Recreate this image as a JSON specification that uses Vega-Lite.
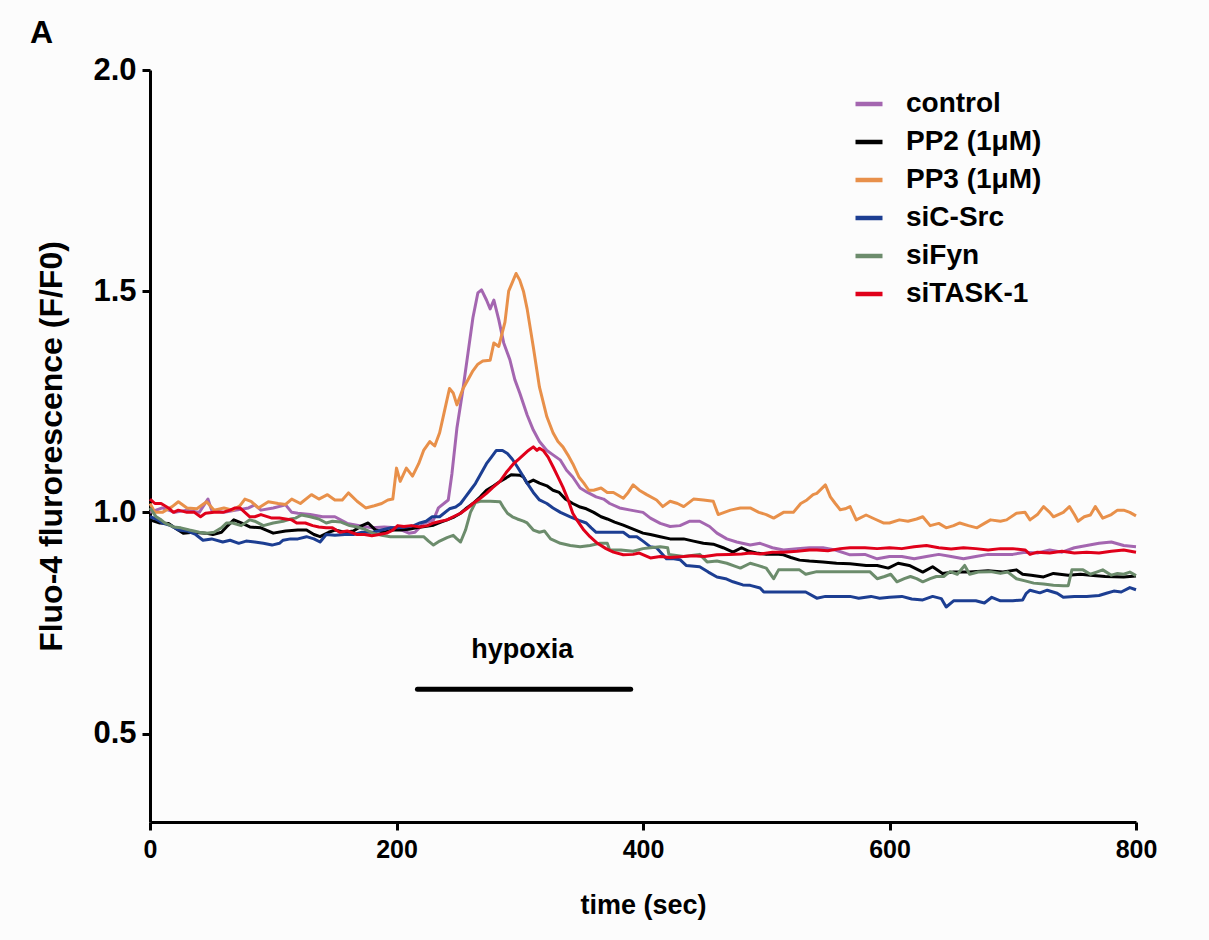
{
  "$schema": "https://vega.github.io/schema/vega-lite/v6.json",
  "autosize": {"type": "none"},
  "width": 986,
  "height": 752,
  "padding": {"left": 150, "top": 70, "right": 73, "bottom": 118},
  "background": "#fcfcfc",
  "title": {"text": "A", "anchor": "start", "frame": "group", "dx": -120, "offset": 4, "fontSize": 32, "fontWeight": "bold", "font": "Liberation Sans", "color": "black"},
  "datasets": {
    "traces": [
      {"s":"control","t":0,"v":1.0},{"s":"control","t":10,"v":1.01},{"s":"control","t":20,"v":1.0},{"s":"control","t":30,"v":1.005},{"s":"control","t":40,"v":1.0},{"s":"control","t":47,"v":1.03},{"s":"control","t":50,"v":1.005},{"s":"control","t":60,"v":1.0},{"s":"control","t":70,"v":1.005},{"s":"control","t":80,"v":1.01},{"s":"control","t":85,"v":1.017},{"s":"control","t":90,"v":1.005},{"s":"control","t":100,"v":1.01},{"s":"control","t":110,"v":1.017},{"s":"control","t":115,"v":1.0},{"s":"control","t":120,"v":0.998},{"s":"control","t":130,"v":0.995},{"s":"control","t":140,"v":0.99},{"s":"control","t":150,"v":0.99},{"s":"control","t":160,"v":0.975},{"s":"control","t":170,"v":0.97},{"s":"control","t":180,"v":0.965},{"s":"control","t":190,"v":0.967},{"s":"control","t":200,"v":0.965},{"s":"control","t":210,"v":0.953},{"s":"control","t":215,"v":0.955},{"s":"control","t":222,"v":0.975},{"s":"control","t":230,"v":0.983},{"s":"control","t":234,"v":1.01},{"s":"control","t":242,"v":1.028},{"s":"control","t":245,"v":1.088},{"s":"control","t":249,"v":1.19},{"s":"control","t":254,"v":1.28},{"s":"control","t":258,"v":1.36},{"s":"control","t":262,"v":1.44},{"s":"control","t":266,"v":1.496},{"s":"control","t":269,"v":1.503},{"s":"control","t":273,"v":1.48},{"s":"control","t":276,"v":1.46},{"s":"control","t":279,"v":1.48},{"s":"control","t":283,"v":1.435},{"s":"control","t":287,"v":1.383},{"s":"control","t":292,"v":1.345},{"s":"control","t":296,"v":1.3},{"s":"control","t":300,"v":1.27},{"s":"control","t":306,"v":1.22},{"s":"control","t":311,"v":1.186},{"s":"control","t":316,"v":1.16},{"s":"control","t":322,"v":1.14},{"s":"control","t":327,"v":1.13},{"s":"control","t":333,"v":1.118},{"s":"control","t":338,"v":1.095},{"s":"control","t":343,"v":1.08},{"s":"control","t":349,"v":1.055},{"s":"control","t":355,"v":1.045},{"s":"control","t":362,"v":1.035},{"s":"control","t":368,"v":1.03},{"s":"control","t":373,"v":1.02},{"s":"control","t":381,"v":1.01},{"s":"control","t":390,"v":1.005},{"s":"control","t":400,"v":1.0},{"s":"control","t":406,"v":0.987},{"s":"control","t":414,"v":0.975},{"s":"control","t":422,"v":0.968},{"s":"control","t":430,"v":0.97},{"s":"control","t":438,"v":0.98},{"s":"control","t":446,"v":0.98},{"s":"control","t":454,"v":0.968},{"s":"control","t":460,"v":0.953},{"s":"control","t":468,"v":0.94},{"s":"control","t":476,"v":0.933},{"s":"control","t":487,"v":0.926},{"s":"control","t":495,"v":0.93},{"s":"control","t":505,"v":0.92},{"s":"control","t":514,"v":0.915},{"s":"control","t":525,"v":0.918},{"s":"control","t":535,"v":0.92},{"s":"control","t":546,"v":0.92},{"s":"control","t":556,"v":0.915},{"s":"control","t":568,"v":0.904},{"s":"control","t":580,"v":0.905},{"s":"control","t":590,"v":0.895},{"s":"control","t":600,"v":0.9},{"s":"control","t":610,"v":0.9},{"s":"control","t":620,"v":0.895},{"s":"control","t":630,"v":0.9},{"s":"control","t":640,"v":0.905},{"s":"control","t":650,"v":0.9},{"s":"control","t":660,"v":0.895},{"s":"control","t":670,"v":0.9},{"s":"control","t":680,"v":0.905},{"s":"control","t":690,"v":0.905},{"s":"control","t":700,"v":0.905},{"s":"control","t":710,"v":0.91},{"s":"control","t":720,"v":0.908},{"s":"control","t":730,"v":0.915},{"s":"control","t":740,"v":0.91},{"s":"control","t":750,"v":0.92},{"s":"control","t":760,"v":0.925},{"s":"control","t":770,"v":0.93},{"s":"control","t":780,"v":0.933},{"s":"control","t":790,"v":0.925},{"s":"control","t":800,"v":0.922},

      {"s":"PP2 (1μM)","t":0,"v":0.983},{"s":"PP2 (1μM)","t":8,"v":0.976},{"s":"PP2 (1μM)","t":15,"v":0.975},{"s":"PP2 (1μM)","t":20,"v":0.965},{"s":"PP2 (1μM)","t":27,"v":0.953},{"s":"PP2 (1μM)","t":35,"v":0.955},{"s":"PP2 (1μM)","t":45,"v":0.953},{"s":"PP2 (1μM)","t":51,"v":0.95},{"s":"PP2 (1μM)","t":58,"v":0.955},{"s":"PP2 (1μM)","t":62,"v":0.967},{"s":"PP2 (1μM)","t":68,"v":0.983},{"s":"PP2 (1μM)","t":75,"v":0.975},{"s":"PP2 (1μM)","t":81,"v":0.967},{"s":"PP2 (1μM)","t":90,"v":0.965},{"s":"PP2 (1μM)","t":100,"v":0.953},{"s":"PP2 (1μM)","t":110,"v":0.958},{"s":"PP2 (1μM)","t":120,"v":0.96},{"s":"PP2 (1μM)","t":127,"v":0.96},{"s":"PP2 (1μM)","t":133,"v":0.95},{"s":"PP2 (1μM)","t":138,"v":0.945},{"s":"PP2 (1μM)","t":145,"v":0.955},{"s":"PP2 (1μM)","t":150,"v":0.96},{"s":"PP2 (1μM)","t":158,"v":0.955},{"s":"PP2 (1μM)","t":165,"v":0.958},{"s":"PP2 (1μM)","t":172,"v":0.97},{"s":"PP2 (1μM)","t":177,"v":0.976},{"s":"PP2 (1μM)","t":183,"v":0.96},{"s":"PP2 (1μM)","t":190,"v":0.955},{"s":"PP2 (1μM)","t":197,"v":0.96},{"s":"PP2 (1μM)","t":203,"v":0.96},{"s":"PP2 (1μM)","t":210,"v":0.962},{"s":"PP2 (1μM)","t":216,"v":0.965},{"s":"PP2 (1μM)","t":223,"v":0.968},{"s":"PP2 (1μM)","t":230,"v":0.971},{"s":"PP2 (1μM)","t":236,"v":0.978},{"s":"PP2 (1μM)","t":241,"v":0.983},{"s":"PP2 (1μM)","t":247,"v":0.99},{"s":"PP2 (1μM)","t":252,"v":0.998},{"s":"PP2 (1μM)","t":257,"v":1.01},{"s":"PP2 (1μM)","t":262,"v":1.02},{"s":"PP2 (1μM)","t":268,"v":1.035},{"s":"PP2 (1μM)","t":273,"v":1.05},{"s":"PP2 (1μM)","t":279,"v":1.06},{"s":"PP2 (1μM)","t":284,"v":1.07},{"s":"PP2 (1μM)","t":289,"v":1.078},{"s":"PP2 (1μM)","t":293,"v":1.085},{"s":"PP2 (1μM)","t":300,"v":1.084},{"s":"PP2 (1μM)","t":303,"v":1.08},{"s":"PP2 (1μM)","t":306,"v":1.066},{"s":"PP2 (1μM)","t":311,"v":1.073},{"s":"PP2 (1μM)","t":316,"v":1.066},{"s":"PP2 (1μM)","t":322,"v":1.06},{"s":"PP2 (1μM)","t":327,"v":1.05},{"s":"PP2 (1μM)","t":332,"v":1.045},{"s":"PP2 (1μM)","t":337,"v":1.03},{"s":"PP2 (1μM)","t":343,"v":1.02},{"s":"PP2 (1μM)","t":349,"v":1.012},{"s":"PP2 (1μM)","t":354,"v":1.008},{"s":"PP2 (1μM)","t":360,"v":1.0},{"s":"PP2 (1μM)","t":366,"v":0.99},{"s":"PP2 (1μM)","t":371,"v":0.985},{"s":"PP2 (1μM)","t":377,"v":0.978},{"s":"PP2 (1μM)","t":384,"v":0.971},{"s":"PP2 (1μM)","t":392,"v":0.962},{"s":"PP2 (1μM)","t":400,"v":0.953},{"s":"PP2 (1μM)","t":406,"v":0.95},{"s":"PP2 (1μM)","t":414,"v":0.945},{"s":"PP2 (1μM)","t":422,"v":0.94},{"s":"PP2 (1μM)","t":433,"v":0.94},{"s":"PP2 (1μM)","t":441,"v":0.935},{"s":"PP2 (1μM)","t":449,"v":0.93},{"s":"PP2 (1μM)","t":457,"v":0.928},{"s":"PP2 (1μM)","t":465,"v":0.92},{"s":"PP2 (1μM)","t":473,"v":0.91},{"s":"PP2 (1μM)","t":480,"v":0.92},{"s":"PP2 (1μM)","t":486,"v":0.912},{"s":"PP2 (1μM)","t":492,"v":0.908},{"s":"PP2 (1μM)","t":500,"v":0.905},{"s":"PP2 (1μM)","t":508,"v":0.906},{"s":"PP2 (1μM)","t":514,"v":0.904},{"s":"PP2 (1μM)","t":520,"v":0.898},{"s":"PP2 (1μM)","t":527,"v":0.892},{"s":"PP2 (1μM)","t":535,"v":0.89},{"s":"PP2 (1μM)","t":546,"v":0.888},{"s":"PP2 (1μM)","t":557,"v":0.885},{"s":"PP2 (1μM)","t":568,"v":0.884},{"s":"PP2 (1μM)","t":581,"v":0.88},{"s":"PP2 (1μM)","t":590,"v":0.88},{"s":"PP2 (1μM)","t":599,"v":0.874},{"s":"PP2 (1μM)","t":607,"v":0.885},{"s":"PP2 (1μM)","t":616,"v":0.88},{"s":"PP2 (1μM)","t":627,"v":0.865},{"s":"PP2 (1μM)","t":635,"v":0.877},{"s":"PP2 (1μM)","t":643,"v":0.862},{"s":"PP2 (1μM)","t":652,"v":0.865},{"s":"PP2 (1μM)","t":665,"v":0.865},{"s":"PP2 (1μM)","t":680,"v":0.868},{"s":"PP2 (1μM)","t":692,"v":0.865},{"s":"PP2 (1μM)","t":703,"v":0.87},{"s":"PP2 (1μM)","t":708,"v":0.86},{"s":"PP2 (1μM)","t":715,"v":0.858},{"s":"PP2 (1μM)","t":725,"v":0.854},{"s":"PP2 (1μM)","t":733,"v":0.862},{"s":"PP2 (1μM)","t":745,"v":0.858},{"s":"PP2 (1μM)","t":755,"v":0.86},{"s":"PP2 (1μM)","t":763,"v":0.858},{"s":"PP2 (1μM)","t":775,"v":0.855},{"s":"PP2 (1μM)","t":790,"v":0.854},{"s":"PP2 (1μM)","t":800,"v":0.856},

      {"s":"PP3 (1μM)","t":0,"v":1.02},{"s":"PP3 (1μM)","t":4,"v":1.0},{"s":"PP3 (1μM)","t":10,"v":1.0},{"s":"PP3 (1μM)","t":18,"v":1.013},{"s":"PP3 (1μM)","t":23,"v":1.024},{"s":"PP3 (1μM)","t":30,"v":1.01},{"s":"PP3 (1μM)","t":38,"v":1.008},{"s":"PP3 (1μM)","t":46,"v":1.024},{"s":"PP3 (1μM)","t":52,"v":1.005},{"s":"PP3 (1μM)","t":60,"v":1.01},{"s":"PP3 (1μM)","t":67,"v":1.005},{"s":"PP3 (1μM)","t":73,"v":1.015},{"s":"PP3 (1μM)","t":77,"v":1.03},{"s":"PP3 (1μM)","t":82,"v":1.025},{"s":"PP3 (1μM)","t":88,"v":1.01},{"s":"PP3 (1μM)","t":96,"v":1.024},{"s":"PP3 (1μM)","t":104,"v":1.02},{"s":"PP3 (1μM)","t":110,"v":1.018},{"s":"PP3 (1μM)","t":115,"v":1.03},{"s":"PP3 (1μM)","t":122,"v":1.02},{"s":"PP3 (1μM)","t":131,"v":1.04},{"s":"PP3 (1μM)","t":137,"v":1.03},{"s":"PP3 (1μM)","t":144,"v":1.04},{"s":"PP3 (1μM)","t":150,"v":1.028},{"s":"PP3 (1μM)","t":156,"v":1.028},{"s":"PP3 (1μM)","t":161,"v":1.044},{"s":"PP3 (1μM)","t":168,"v":1.025},{"s":"PP3 (1μM)","t":175,"v":1.01},{"s":"PP3 (1μM)","t":182,"v":1.015},{"s":"PP3 (1μM)","t":188,"v":1.02},{"s":"PP3 (1μM)","t":193,"v":1.028},{"s":"PP3 (1μM)","t":197,"v":1.03},{"s":"PP3 (1μM)","t":200,"v":1.1},{"s":"PP3 (1μM)","t":203,"v":1.07},{"s":"PP3 (1μM)","t":208,"v":1.1},{"s":"PP3 (1μM)","t":213,"v":1.082},{"s":"PP3 (1μM)","t":218,"v":1.11},{"s":"PP3 (1μM)","t":222,"v":1.14},{"s":"PP3 (1μM)","t":227,"v":1.16},{"s":"PP3 (1μM)","t":231,"v":1.15},{"s":"PP3 (1μM)","t":235,"v":1.18},{"s":"PP3 (1μM)","t":239,"v":1.23},{"s":"PP3 (1μM)","t":243,"v":1.28},{"s":"PP3 (1μM)","t":246,"v":1.27},{"s":"PP3 (1μM)","t":249,"v":1.243},{"s":"PP3 (1μM)","t":254,"v":1.28},{"s":"PP3 (1μM)","t":258,"v":1.3},{"s":"PP3 (1μM)","t":262,"v":1.32},{"s":"PP3 (1μM)","t":266,"v":1.335},{"s":"PP3 (1μM)","t":270,"v":1.342},{"s":"PP3 (1μM)","t":276,"v":1.344},{"s":"PP3 (1μM)","t":279,"v":1.383},{"s":"PP3 (1μM)","t":283,"v":1.375},{"s":"PP3 (1μM)","t":288,"v":1.43},{"s":"PP3 (1μM)","t":291,"v":1.5},{"s":"PP3 (1μM)","t":294,"v":1.52},{"s":"PP3 (1μM)","t":297,"v":1.54},{"s":"PP3 (1μM)","t":300,"v":1.525},{"s":"PP3 (1μM)","t":303,"v":1.5},{"s":"PP3 (1μM)","t":306,"v":1.46},{"s":"PP3 (1μM)","t":311,"v":1.374},{"s":"PP3 (1μM)","t":316,"v":1.283},{"s":"PP3 (1μM)","t":322,"v":1.216},{"s":"PP3 (1μM)","t":327,"v":1.18},{"s":"PP3 (1μM)","t":331,"v":1.16},{"s":"PP3 (1μM)","t":335,"v":1.148},{"s":"PP3 (1μM)","t":339,"v":1.13},{"s":"PP3 (1μM)","t":343,"v":1.11},{"s":"PP3 (1μM)","t":348,"v":1.08},{"s":"PP3 (1μM)","t":352,"v":1.066},{"s":"PP3 (1μM)","t":356,"v":1.05},{"s":"PP3 (1μM)","t":360,"v":1.05},{"s":"PP3 (1μM)","t":366,"v":1.055},{"s":"PP3 (1μM)","t":371,"v":1.045},{"s":"PP3 (1μM)","t":376,"v":1.045},{"s":"PP3 (1μM)","t":384,"v":1.032},{"s":"PP3 (1μM)","t":388,"v":1.045},{"s":"PP3 (1μM)","t":392,"v":1.062},{"s":"PP3 (1μM)","t":397,"v":1.05},{"s":"PP3 (1μM)","t":403,"v":1.04},{"s":"PP3 (1μM)","t":411,"v":1.028},{"s":"PP3 (1μM)","t":416,"v":1.013},{"s":"PP3 (1μM)","t":422,"v":1.025},{"s":"PP3 (1μM)","t":428,"v":1.02},{"s":"PP3 (1μM)","t":433,"v":1.013},{"s":"PP3 (1μM)","t":441,"v":1.03},{"s":"PP3 (1μM)","t":449,"v":1.028},{"s":"PP3 (1μM)","t":457,"v":1.025},{"s":"PP3 (1μM)","t":461,"v":0.995},{"s":"PP3 (1μM)","t":466,"v":1.0},{"s":"PP3 (1μM)","t":471,"v":1.005},{"s":"PP3 (1μM)","t":479,"v":1.01},{"s":"PP3 (1μM)","t":487,"v":1.01},{"s":"PP3 (1μM)","t":494,"v":1.0},{"s":"PP3 (1μM)","t":500,"v":0.995},{"s":"PP3 (1μM)","t":506,"v":0.987},{"s":"PP3 (1μM)","t":514,"v":1.0},{"s":"PP3 (1μM)","t":522,"v":1.0},{"s":"PP3 (1μM)","t":528,"v":1.02},{"s":"PP3 (1μM)","t":533,"v":1.028},{"s":"PP3 (1μM)","t":538,"v":1.04},{"s":"PP3 (1μM)","t":541,"v":1.043},{"s":"PP3 (1μM)","t":548,"v":1.062},{"s":"PP3 (1μM)","t":552,"v":1.035},{"s":"PP3 (1μM)","t":556,"v":1.02},{"s":"PP3 (1μM)","t":560,"v":1.006},{"s":"PP3 (1μM)","t":564,"v":1.008},{"s":"PP3 (1μM)","t":568,"v":1.013},{"s":"PP3 (1μM)","t":573,"v":0.983},{"s":"PP3 (1μM)","t":581,"v":0.994},{"s":"PP3 (1μM)","t":588,"v":0.985},{"s":"PP3 (1μM)","t":595,"v":0.976},{"s":"PP3 (1μM)","t":600,"v":0.976},{"s":"PP3 (1μM)","t":608,"v":0.983},{"s":"PP3 (1μM)","t":615,"v":0.98},{"s":"PP3 (1μM)","t":622,"v":0.985},{"s":"PP3 (1μM)","t":627,"v":0.99},{"s":"PP3 (1μM)","t":633,"v":0.97},{"s":"PP3 (1μM)","t":640,"v":0.975},{"s":"PP3 (1μM)","t":646,"v":0.965},{"s":"PP3 (1μM)","t":652,"v":0.97},{"s":"PP3 (1μM)","t":657,"v":0.976},{"s":"PP3 (1μM)","t":664,"v":0.97},{"s":"PP3 (1μM)","t":671,"v":0.965},{"s":"PP3 (1μM)","t":677,"v":0.975},{"s":"PP3 (1μM)","t":682,"v":0.983},{"s":"PP3 (1μM)","t":690,"v":0.98},{"s":"PP3 (1μM)","t":695,"v":0.983},{"s":"PP3 (1μM)","t":703,"v":0.998},{"s":"PP3 (1μM)","t":710,"v":1.0},{"s":"PP3 (1μM)","t":714,"v":0.983},{"s":"PP3 (1μM)","t":720,"v":0.995},{"s":"PP3 (1μM)","t":725,"v":1.013},{"s":"PP3 (1μM)","t":730,"v":1.0},{"s":"PP3 (1μM)","t":733,"v":0.99},{"s":"PP3 (1μM)","t":741,"v":1.0},{"s":"PP3 (1μM)","t":746,"v":1.013},{"s":"PP3 (1μM)","t":750,"v":0.995},{"s":"PP3 (1μM)","t":753,"v":0.98},{"s":"PP3 (1μM)","t":758,"v":0.99},{"s":"PP3 (1μM)","t":763,"v":0.994},{"s":"PP3 (1μM)","t":767,"v":1.013},{"s":"PP3 (1μM)","t":773,"v":0.987},{"s":"PP3 (1μM)","t":780,"v":0.995},{"s":"PP3 (1μM)","t":785,"v":1.005},{"s":"PP3 (1μM)","t":790,"v":1.005},{"s":"PP3 (1μM)","t":795,"v":1.0},{"s":"PP3 (1μM)","t":800,"v":0.992},

      {"s":"siC-Src","t":0,"v":0.99},{"s":"siC-Src","t":5,"v":0.985},{"s":"siC-Src","t":10,"v":0.976},{"s":"siC-Src","t":17,"v":0.97},{"s":"siC-Src","t":23,"v":0.96},{"s":"siC-Src","t":30,"v":0.958},{"s":"siC-Src","t":37,"v":0.95},{"s":"siC-Src","t":43,"v":0.937},{"s":"siC-Src","t":50,"v":0.94},{"s":"siC-Src","t":59,"v":0.933},{"s":"siC-Src","t":65,"v":0.937},{"s":"siC-Src","t":72,"v":0.93},{"s":"siC-Src","t":78,"v":0.935},{"s":"siC-Src","t":85,"v":0.933},{"s":"siC-Src","t":92,"v":0.93},{"s":"siC-Src","t":99,"v":0.926},{"s":"siC-Src","t":105,"v":0.93},{"s":"siC-Src","t":108,"v":0.937},{"s":"siC-Src","t":114,"v":0.94},{"s":"siC-Src","t":120,"v":0.94},{"s":"siC-Src","t":127,"v":0.945},{"s":"siC-Src","t":133,"v":0.94},{"s":"siC-Src","t":138,"v":0.933},{"s":"siC-Src","t":143,"v":0.95},{"s":"siC-Src","t":150,"v":0.948},{"s":"siC-Src","t":158,"v":0.95},{"s":"siC-Src","t":165,"v":0.95},{"s":"siC-Src","t":172,"v":0.955},{"s":"siC-Src","t":181,"v":0.955},{"s":"siC-Src","t":188,"v":0.96},{"s":"siC-Src","t":195,"v":0.965},{"s":"siC-Src","t":201,"v":0.965},{"s":"siC-Src","t":208,"v":0.967},{"s":"siC-Src","t":214,"v":0.97},{"s":"siC-Src","t":219,"v":0.976},{"s":"siC-Src","t":224,"v":0.98},{"s":"siC-Src","t":229,"v":0.99},{"s":"siC-Src","t":235,"v":0.99},{"s":"siC-Src","t":243,"v":1.008},{"s":"siC-Src","t":248,"v":1.012},{"s":"siC-Src","t":252,"v":1.02},{"s":"siC-Src","t":256,"v":1.035},{"s":"siC-Src","t":260,"v":1.05},{"s":"siC-Src","t":264,"v":1.065},{"s":"siC-Src","t":268,"v":1.085},{"s":"siC-Src","t":273,"v":1.11},{"s":"siC-Src","t":277,"v":1.125},{"s":"siC-Src","t":281,"v":1.14},{"s":"siC-Src","t":286,"v":1.14},{"s":"siC-Src","t":290,"v":1.133},{"s":"siC-Src","t":294,"v":1.12},{"s":"siC-Src","t":298,"v":1.103},{"s":"siC-Src","t":302,"v":1.085},{"s":"siC-Src","t":306,"v":1.066},{"s":"siC-Src","t":311,"v":1.045},{"s":"siC-Src","t":316,"v":1.028},{"s":"siC-Src","t":322,"v":1.02},{"s":"siC-Src","t":327,"v":1.01},{"s":"siC-Src","t":333,"v":1.0},{"s":"siC-Src","t":341,"v":0.99},{"s":"siC-Src","t":348,"v":0.982},{"s":"siC-Src","t":354,"v":0.976},{"s":"siC-Src","t":358,"v":0.965},{"s":"siC-Src","t":362,"v":0.955},{"s":"siC-Src","t":370,"v":0.955},{"s":"siC-Src","t":378,"v":0.955},{"s":"siC-Src","t":384,"v":0.955},{"s":"siC-Src","t":389,"v":0.945},{"s":"siC-Src","t":395,"v":0.945},{"s":"siC-Src","t":400,"v":0.935},{"s":"siC-Src","t":406,"v":0.922},{"s":"siC-Src","t":411,"v":0.92},{"s":"siC-Src","t":419,"v":0.895},{"s":"siC-Src","t":425,"v":0.895},{"s":"siC-Src","t":430,"v":0.893},{"s":"siC-Src","t":435,"v":0.88},{"s":"siC-Src","t":446,"v":0.877},{"s":"siC-Src","t":453,"v":0.865},{"s":"siC-Src","t":460,"v":0.854},{"s":"siC-Src","t":467,"v":0.85},{"s":"siC-Src","t":473,"v":0.843},{"s":"siC-Src","t":481,"v":0.836},{"s":"siC-Src","t":487,"v":0.835},{"s":"siC-Src","t":495,"v":0.829},{"s":"siC-Src","t":498,"v":0.82},{"s":"siC-Src","t":506,"v":0.82},{"s":"siC-Src","t":514,"v":0.82},{"s":"siC-Src","t":524,"v":0.82},{"s":"siC-Src","t":532,"v":0.82},{"s":"siC-Src","t":541,"v":0.806},{"s":"siC-Src","t":548,"v":0.81},{"s":"siC-Src","t":555,"v":0.81},{"s":"siC-Src","t":568,"v":0.81},{"s":"siC-Src","t":575,"v":0.806},{"s":"siC-Src","t":585,"v":0.81},{"s":"siC-Src","t":592,"v":0.806},{"s":"siC-Src","t":600,"v":0.808},{"s":"siC-Src","t":610,"v":0.81},{"s":"siC-Src","t":618,"v":0.804},{"s":"siC-Src","t":627,"v":0.802},{"s":"siC-Src","t":635,"v":0.81},{"s":"siC-Src","t":642,"v":0.805},{"s":"siC-Src","t":646,"v":0.786},{"s":"siC-Src","t":652,"v":0.8},{"s":"siC-Src","t":660,"v":0.8},{"s":"siC-Src","t":670,"v":0.8},{"s":"siC-Src","t":677,"v":0.795},{"s":"siC-Src","t":683,"v":0.808},{"s":"siC-Src","t":690,"v":0.8},{"s":"siC-Src","t":700,"v":0.8},{"s":"siC-Src","t":708,"v":0.802},{"s":"siC-Src","t":711,"v":0.817},{"s":"siC-Src","t":714,"v":0.824},{"s":"siC-Src","t":722,"v":0.818},{"s":"siC-Src","t":728,"v":0.824},{"s":"siC-Src","t":736,"v":0.817},{"s":"siC-Src","t":741,"v":0.808},{"s":"siC-Src","t":750,"v":0.81},{"s":"siC-Src","t":760,"v":0.81},{"s":"siC-Src","t":770,"v":0.812},{"s":"siC-Src","t":776,"v":0.817},{"s":"siC-Src","t":782,"v":0.822},{"s":"siC-Src","t":788,"v":0.82},{"s":"siC-Src","t":795,"v":0.83},{"s":"siC-Src","t":800,"v":0.825},

      {"s":"siFyn","t":0,"v":1.01},{"s":"siFyn","t":5,"v":0.99},{"s":"siFyn","t":9,"v":0.983},{"s":"siFyn","t":12,"v":0.976},{"s":"siFyn","t":19,"v":0.967},{"s":"siFyn","t":25,"v":0.965},{"s":"siFyn","t":32,"v":0.96},{"s":"siFyn","t":40,"v":0.955},{"s":"siFyn","t":46,"v":0.953},{"s":"siFyn","t":52,"v":0.955},{"s":"siFyn","t":58,"v":0.965},{"s":"siFyn","t":62,"v":0.976},{"s":"siFyn","t":67,"v":0.976},{"s":"siFyn","t":74,"v":0.97},{"s":"siFyn","t":81,"v":0.983},{"s":"siFyn","t":85,"v":0.98},{"s":"siFyn","t":92,"v":0.97},{"s":"siFyn","t":100,"v":0.976},{"s":"siFyn","t":108,"v":0.98},{"s":"siFyn","t":114,"v":0.985},{"s":"siFyn","t":118,"v":0.987},{"s":"siFyn","t":123,"v":0.994},{"s":"siFyn","t":130,"v":0.99},{"s":"siFyn","t":137,"v":0.985},{"s":"siFyn","t":143,"v":0.976},{"s":"siFyn","t":148,"v":0.98},{"s":"siFyn","t":155,"v":0.978},{"s":"siFyn","t":162,"v":0.97},{"s":"siFyn","t":168,"v":0.967},{"s":"siFyn","t":174,"v":0.962},{"s":"siFyn","t":181,"v":0.953},{"s":"siFyn","t":188,"v":0.948},{"s":"siFyn","t":195,"v":0.945},{"s":"siFyn","t":205,"v":0.945},{"s":"siFyn","t":215,"v":0.945},{"s":"siFyn","t":222,"v":0.945},{"s":"siFyn","t":226,"v":0.935},{"s":"siFyn","t":230,"v":0.926},{"s":"siFyn","t":235,"v":0.935},{"s":"siFyn","t":241,"v":0.943},{"s":"siFyn","t":246,"v":0.948},{"s":"siFyn","t":249,"v":0.94},{"s":"siFyn","t":252,"v":0.933},{"s":"siFyn","t":256,"v":0.96},{"s":"siFyn","t":260,"v":1.0},{"s":"siFyn","t":264,"v":1.022},{"s":"siFyn","t":268,"v":1.025},{"s":"siFyn","t":276,"v":1.025},{"s":"siFyn","t":284,"v":1.024},{"s":"siFyn","t":287,"v":1.01},{"s":"siFyn","t":290,"v":0.998},{"s":"siFyn","t":294,"v":0.99},{"s":"siFyn","t":298,"v":0.985},{"s":"siFyn","t":303,"v":0.98},{"s":"siFyn","t":306,"v":0.976},{"s":"siFyn","t":311,"v":0.96},{"s":"siFyn","t":316,"v":0.955},{"s":"siFyn","t":320,"v":0.958},{"s":"siFyn","t":325,"v":0.94},{"s":"siFyn","t":333,"v":0.93},{"s":"siFyn","t":341,"v":0.925},{"s":"siFyn","t":349,"v":0.922},{"s":"siFyn","t":357,"v":0.925},{"s":"siFyn","t":365,"v":0.93},{"s":"siFyn","t":371,"v":0.93},{"s":"siFyn","t":373,"v":0.915},{"s":"siFyn","t":382,"v":0.915},{"s":"siFyn","t":392,"v":0.912},{"s":"siFyn","t":400,"v":0.918},{"s":"siFyn","t":406,"v":0.92},{"s":"siFyn","t":414,"v":0.922},{"s":"siFyn","t":420,"v":0.92},{"s":"siFyn","t":421,"v":0.905},{"s":"siFyn","t":433,"v":0.9},{"s":"siFyn","t":446,"v":0.905},{"s":"siFyn","t":452,"v":0.888},{"s":"siFyn","t":460,"v":0.89},{"s":"siFyn","t":468,"v":0.885},{"s":"siFyn","t":475,"v":0.878},{"s":"siFyn","t":479,"v":0.874},{"s":"siFyn","t":487,"v":0.885},{"s":"siFyn","t":493,"v":0.88},{"s":"siFyn","t":500,"v":0.874},{"s":"siFyn","t":506,"v":0.85},{"s":"siFyn","t":510,"v":0.87},{"s":"siFyn","t":520,"v":0.87},{"s":"siFyn","t":527,"v":0.87},{"s":"siFyn","t":532,"v":0.86},{"s":"siFyn","t":541,"v":0.866},{"s":"siFyn","t":555,"v":0.866},{"s":"siFyn","t":568,"v":0.866},{"s":"siFyn","t":584,"v":0.866},{"s":"siFyn","t":590,"v":0.85},{"s":"siFyn","t":596,"v":0.855},{"s":"siFyn","t":601,"v":0.86},{"s":"siFyn","t":606,"v":0.843},{"s":"siFyn","t":612,"v":0.85},{"s":"siFyn","t":617,"v":0.855},{"s":"siFyn","t":622,"v":0.85},{"s":"siFyn","t":627,"v":0.843},{"s":"siFyn","t":633,"v":0.85},{"s":"siFyn","t":638,"v":0.855},{"s":"siFyn","t":644,"v":0.855},{"s":"siFyn","t":649,"v":0.866},{"s":"siFyn","t":655,"v":0.86},{"s":"siFyn","t":661,"v":0.88},{"s":"siFyn","t":665,"v":0.86},{"s":"siFyn","t":672,"v":0.865},{"s":"siFyn","t":682,"v":0.866},{"s":"siFyn","t":690,"v":0.862},{"s":"siFyn","t":696,"v":0.865},{"s":"siFyn","t":703,"v":0.85},{"s":"siFyn","t":710,"v":0.845},{"s":"siFyn","t":717,"v":0.84},{"s":"siFyn","t":725,"v":0.838},{"s":"siFyn","t":733,"v":0.835},{"s":"siFyn","t":741,"v":0.834},{"s":"siFyn","t":745,"v":0.834},{"s":"siFyn","t":748,"v":0.87},{"s":"siFyn","t":757,"v":0.87},{"s":"siFyn","t":763,"v":0.86},{"s":"siFyn","t":768,"v":0.865},{"s":"siFyn","t":773,"v":0.87},{"s":"siFyn","t":780,"v":0.858},{"s":"siFyn","t":785,"v":0.862},{"s":"siFyn","t":790,"v":0.86},{"s":"siFyn","t":795,"v":0.865},{"s":"siFyn","t":800,"v":0.857},

      {"s":"siTASK-1","t":0,"v":1.03},{"s":"siTASK-1","t":4,"v":1.02},{"s":"siTASK-1","t":9,"v":1.02},{"s":"siTASK-1","t":15,"v":1.01},{"s":"siTASK-1","t":19,"v":1.0},{"s":"siTASK-1","t":23,"v":1.005},{"s":"siTASK-1","t":30,"v":1.0},{"s":"siTASK-1","t":36,"v":1.0},{"s":"siTASK-1","t":41,"v":0.99},{"s":"siTASK-1","t":45,"v":0.998},{"s":"siTASK-1","t":52,"v":1.0},{"s":"siTASK-1","t":59,"v":1.0},{"s":"siTASK-1","t":65,"v":1.005},{"s":"siTASK-1","t":69,"v":1.01},{"s":"siTASK-1","t":73,"v":1.01},{"s":"siTASK-1","t":77,"v":1.0},{"s":"siTASK-1","t":81,"v":0.99},{"s":"siTASK-1","t":85,"v":0.99},{"s":"siTASK-1","t":90,"v":0.995},{"s":"siTASK-1","t":99,"v":0.987},{"s":"siTASK-1","t":105,"v":0.987},{"s":"siTASK-1","t":110,"v":0.985},{"s":"siTASK-1","t":115,"v":0.983},{"s":"siTASK-1","t":119,"v":0.976},{"s":"siTASK-1","t":126,"v":0.976},{"s":"siTASK-1","t":132,"v":0.97},{"s":"siTASK-1","t":137,"v":0.967},{"s":"siTASK-1","t":143,"v":0.965},{"s":"siTASK-1","t":148,"v":0.965},{"s":"siTASK-1","t":154,"v":0.955},{"s":"siTASK-1","t":160,"v":0.958},{"s":"siTASK-1","t":168,"v":0.95},{"s":"siTASK-1","t":174,"v":0.95},{"s":"siTASK-1","t":180,"v":0.947},{"s":"siTASK-1","t":186,"v":0.95},{"s":"siTASK-1","t":192,"v":0.953},{"s":"siTASK-1","t":197,"v":0.96},{"s":"siTASK-1","t":201,"v":0.97},{"s":"siTASK-1","t":206,"v":0.968},{"s":"siTASK-1","t":212,"v":0.97},{"s":"siTASK-1","t":219,"v":0.967},{"s":"siTASK-1","t":225,"v":0.97},{"s":"siTASK-1","t":230,"v":0.976},{"s":"siTASK-1","t":236,"v":0.98},{"s":"siTASK-1","t":241,"v":0.983},{"s":"siTASK-1","t":246,"v":0.99},{"s":"siTASK-1","t":252,"v":0.998},{"s":"siTASK-1","t":257,"v":1.008},{"s":"siTASK-1","t":262,"v":1.02},{"s":"siTASK-1","t":268,"v":1.032},{"s":"siTASK-1","t":273,"v":1.043},{"s":"siTASK-1","t":278,"v":1.056},{"s":"siTASK-1","t":284,"v":1.07},{"s":"siTASK-1","t":289,"v":1.09},{"s":"siTASK-1","t":295,"v":1.11},{"s":"siTASK-1","t":299,"v":1.12},{"s":"siTASK-1","t":303,"v":1.13},{"s":"siTASK-1","t":307,"v":1.14},{"s":"siTASK-1","t":311,"v":1.148},{"s":"siTASK-1","t":314,"v":1.14},{"s":"siTASK-1","t":316,"v":1.145},{"s":"siTASK-1","t":319,"v":1.14},{"s":"siTASK-1","t":323,"v":1.125},{"s":"siTASK-1","t":327,"v":1.103},{"s":"siTASK-1","t":331,"v":1.08},{"s":"siTASK-1","t":335,"v":1.057},{"s":"siTASK-1","t":339,"v":1.03},{"s":"siTASK-1","t":343,"v":0.998},{"s":"siTASK-1","t":347,"v":0.98},{"s":"siTASK-1","t":352,"v":0.96},{"s":"siTASK-1","t":357,"v":0.945},{"s":"siTASK-1","t":363,"v":0.93},{"s":"siTASK-1","t":370,"v":0.918},{"s":"siTASK-1","t":376,"v":0.91},{"s":"siTASK-1","t":384,"v":0.904},{"s":"siTASK-1","t":392,"v":0.905},{"s":"siTASK-1","t":397,"v":0.908},{"s":"siTASK-1","t":406,"v":0.897},{"s":"siTASK-1","t":414,"v":0.9},{"s":"siTASK-1","t":422,"v":0.898},{"s":"siTASK-1","t":433,"v":0.9},{"s":"siTASK-1","t":440,"v":0.902},{"s":"siTASK-1","t":450,"v":0.9},{"s":"siTASK-1","t":460,"v":0.904},{"s":"siTASK-1","t":470,"v":0.905},{"s":"siTASK-1","t":480,"v":0.906},{"s":"siTASK-1","t":487,"v":0.908},{"s":"siTASK-1","t":495,"v":0.906},{"s":"siTASK-1","t":505,"v":0.91},{"s":"siTASK-1","t":514,"v":0.91},{"s":"siTASK-1","t":525,"v":0.912},{"s":"siTASK-1","t":535,"v":0.915},{"s":"siTASK-1","t":541,"v":0.915},{"s":"siTASK-1","t":550,"v":0.913},{"s":"siTASK-1","t":560,"v":0.918},{"s":"siTASK-1","t":568,"v":0.92},{"s":"siTASK-1","t":580,"v":0.92},{"s":"siTASK-1","t":590,"v":0.918},{"s":"siTASK-1","t":600,"v":0.92},{"s":"siTASK-1","t":610,"v":0.918},{"s":"siTASK-1","t":620,"v":0.922},{"s":"siTASK-1","t":630,"v":0.925},{"s":"siTASK-1","t":640,"v":0.92},{"s":"siTASK-1","t":650,"v":0.917},{"s":"siTASK-1","t":660,"v":0.92},{"s":"siTASK-1","t":670,"v":0.918},{"s":"siTASK-1","t":680,"v":0.915},{"s":"siTASK-1","t":690,"v":0.918},{"s":"siTASK-1","t":700,"v":0.918},{"s":"siTASK-1","t":710,"v":0.915},{"s":"siTASK-1","t":714,"v":0.905},{"s":"siTASK-1","t":720,"v":0.91},{"s":"siTASK-1","t":730,"v":0.908},{"s":"siTASK-1","t":740,"v":0.912},{"s":"siTASK-1","t":750,"v":0.908},{"s":"siTASK-1","t":760,"v":0.91},{"s":"siTASK-1","t":770,"v":0.908},{"s":"siTASK-1","t":780,"v":0.912},{"s":"siTASK-1","t":790,"v":0.915},{"s":"siTASK-1","t":800,"v":0.91}
    ],
    "bar": [{"start": 217, "end": 390, "level": 0.6, "label": "hypoxia", "mid": 302, "ty": 0.671}]
  },
  "layer": [
    {
      "data": {"name": "traces"},
      "mark": {"type": "line", "strokeWidth": 3, "strokeJoin": "round"},
      "encoding": {
        "x": {"field": "t", "type": "quantitative", "scale": {"domain": [0, 800], "nice": false, "zero": false},
          "axis": {"title": "time (sec)", "values": [0, 200, 400, 600, 800], "grid": false, "labelFlush": false, "labelOverlap": false,
            "domainWidth": 3, "domainColor": "black", "tickWidth": 3, "tickSize": 8, "tickColor": "black",
            "labelFont": "Liberation Sans", "labelFontSize": 25, "labelFontWeight": "bold", "labelColor": "black", "labelPadding": 7,
            "titleFont": "Liberation Sans", "titleFontSize": 27, "titleFontWeight": "bold", "titleColor": "black", "titlePadding": 30}},
        "y": {"field": "v", "type": "quantitative", "scale": {"domain": [0.3, 2.0], "nice": false, "zero": false},
          "axis": {"title": "Fluo-4 flurorescence (F/F0)", "values": [0.5, 1.0, 1.5, 2.0], "format": ".1f", "grid": false, "labelFlush": false, "labelOverlap": false,
            "domainWidth": 3, "domainColor": "black", "tickWidth": 3, "tickSize": 8, "tickColor": "black",
            "labelFont": "Liberation Sans", "labelFontSize": 31, "labelFontWeight": "bold", "labelColor": "black", "labelPadding": 6,
            "titleFont": "Liberation Sans", "titleFontSize": 32, "titleFontWeight": "bold", "titleColor": "black", "titlePadding": 24}},
        "color": {"field": "s", "type": "nominal",
          "scale": {"domain": ["control", "PP2 (1μM)", "PP3 (1μM)", "siC-Src", "siFyn", "siTASK-1"],
                    "range": ["#a466b0", "#000000", "#e8904a", "#1c3e92", "#6c8c6c", "#e0001a"]},
          "legend": {"title": null, "orient": "none", "legendX": 703, "legendY": 18, "padding": 0,
            "symbolType": "stroke", "symbolSize": 729, "symbolStrokeWidth": 4.5,
            "labelFont": "Liberation Sans", "labelFontSize": 28, "labelFontWeight": "bold", "labelColor": "black",
            "labelOffset": 21, "rowPadding": 8, "labelLimit": 300}}
      }
    },
    {
      "data": {"name": "bar"},
      "mark": {"type": "rule", "strokeWidth": 5, "strokeCap": "round", "color": "black"},
      "encoding": {
        "x": {"field": "start", "type": "quantitative"},
        "x2": {"field": "end"},
        "y": {"field": "level", "type": "quantitative"}
      }
    },
    {
      "data": {"name": "bar"},
      "mark": {"type": "text", "font": "Liberation Sans", "fontSize": 27, "fontWeight": "bold", "color": "black", "baseline": "alphabetic", "align": "center"},
      "encoding": {
        "x": {"field": "mid", "type": "quantitative"},
        "y": {"field": "ty", "type": "quantitative"},
        "text": {"field": "label"}
      }
    }
  ],
  "config": {"view": {"stroke": null}}
}
